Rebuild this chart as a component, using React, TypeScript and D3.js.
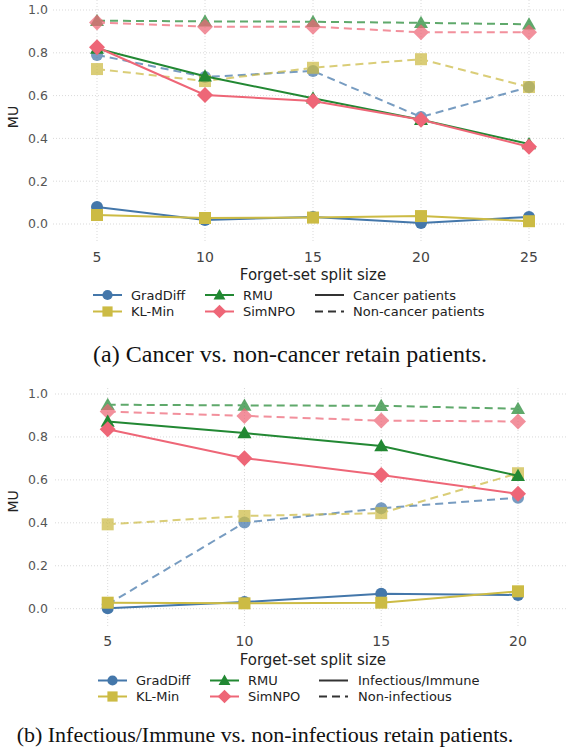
import React from "react";
import * as d3 from "d3";

const methods = ["GradDiff", "KL-Min", "RMU", "SimNPO"];
const colors = ["#4477AA", "#CCBB44", "#228833", "#EE6677"];
const shapes = ["circle", "square", "triangle", "diamond"];

const yTicks = [0, 0.2, 0.4, 0.6, 0.8, 1.0];

// Panel (a)
const splitsA = [5, 10, 15, 20, 25];
const cancerA = [
  [0.079, 0.019, 0.033, 0.005, 0.033],
  [0.042, 0.028, 0.03, 0.037, 0.013],
  [0.82, 0.69, 0.588, 0.487, 0.374],
  [0.826, 0.603, 0.575, 0.487, 0.361],
];
const nonCancerA = [
  [0.79, 0.687, 0.715, 0.5, 0.64],
  [0.724, 0.668, 0.73, 0.77, 0.64],
  [0.95, 0.947, 0.945, 0.94, 0.933],
  [0.942, 0.922, 0.922, 0.896, 0.896],
];

// Panel (b)
const splitsB = [5, 10, 15, 20];
const infectiousB = [
  [0.002, 0.031, 0.07, 0.064],
  [0.028, 0.025, 0.028, 0.081],
  [0.872, 0.818, 0.758, 0.619],
  [0.836, 0.701, 0.623, 0.535],
];
const nonInfectiousB = [
  [0.02, 0.401, 0.468, 0.517],
  [0.393, 0.432, 0.445, 0.631],
  [0.95, 0.947, 0.945, 0.931],
  [0.918, 0.898, 0.876, 0.872],
];

const SANS = "'DejaVu Sans', sans-serif";
const SERIF = "'Liberation Serif', 'Times New Roman', serif";

function Marker({ shape, x, y, color, opacity = 1, s = 1 }: any) {
  if (shape === "circle") return <circle cx={x} cy={y} r={6 * s} fill={color} opacity={opacity} />;
  if (shape === "square") {
    const h = 6 * s;
    return <rect x={x - h} y={y - h} width={2 * h} height={2 * h} fill={color} opacity={opacity} />;
  }
  if (shape === "triangle") {
    const h = 7 * s;
    return (
      <path
        d={`M${x},${y - h}L${x + h},${y + h * 0.75}L${x - h},${y + h * 0.75}Z`}
        fill={color}
        opacity={opacity}
      />
    );
  }
  const h = 8 * s;
  return <path d={`M${x},${y - h}L${x + h},${y}L${x},${y + h}L${x - h},${y}Z`} fill={color} opacity={opacity} />;
}

function Panel({ splits, solid, dashed, xRange, yRange, gridX, gridY, tickY, titleY, legend, caption }: any) {
  const x = d3.scaleLinear().domain([splits[0], splits[splits.length - 1]]).range(xRange);
  const y = d3.scaleLinear().domain([0, 1]).range(yRange);
  const line = d3
    .line<number>()
    .x((_, i) => x(splits[i]))
    .y((d) => y(d));
  return (
    <g>
      {yTicks.map((t) => (
        <g key={"gy" + t}>
          <line x1={gridX[0]} x2={gridX[1]} y1={y(t)} y2={y(t)} stroke="#cfcfcf" strokeWidth={0.8} strokeDasharray="1,2" />
          <text x={48} y={y(t)} dy="0.35em" textAnchor="end" fontFamily={SANS} fontSize={12.5} fill="#555">
            {t.toFixed(1)}
          </text>
        </g>
      ))}
      {splits.map((s: number) => (
        <g key={"gx" + s}>
          <line x1={x(s)} x2={x(s)} y1={gridY[0]} y2={gridY[1]} stroke="#cfcfcf" strokeWidth={0.8} strokeDasharray="1,2" />
          <text x={x(s)} y={tickY} dy="0.35em" textAnchor="middle" fontFamily={SANS} fontSize={14} fill="#444">
            {s}
          </text>
        </g>
      ))}
      <text x={(xRange[0] + xRange[1]) / 2} y={titleY} dy="0.35em" textAnchor="middle" fontFamily={SANS} fontSize={15} fill="#222">
        Forget-set split size
      </text>
      <text
        transform={`translate(13,${(yRange[0] + yRange[1]) / 2}) rotate(-90)`}
        dy="0.35em"
        textAnchor="middle"
        fontFamily={SANS}
        fontSize={14}
        fill="#222"
      >
        MU
      </text>
      {dashed.map((vals: number[], m: number) => (
        <g key={"d" + m} opacity={0.72}>
          <path d={line(vals) || ""} fill="none" stroke={colors[m]} strokeWidth={2} strokeDasharray="8,5" />
          {vals.map((v, i) => (
            <Marker key={i} shape={shapes[m]} x={x(splits[i])} y={y(v)} color={colors[m]} />
          ))}
        </g>
      ))}
      {solid.map((vals: number[], m: number) => (
        <g key={"s" + m}>
          <path d={line(vals) || ""} fill="none" stroke={colors[m]} strokeWidth={2} />
          {vals.map((v, i) => (
            <Marker key={i} shape={shapes[m]} x={x(splits[i])} y={y(v)} color={colors[m]} />
          ))}
        </g>
      ))}
      {/* legend */}
      {methods.map((name, m) => {
        const col = Math.floor(m / 2);
        const row = m % 2;
        const lx = legend.cols[col];
        const ly = legend.rows[row];
        return (
          <g key={"l" + m}>
            <line x1={lx} x2={lx + 29} y1={ly} y2={ly} stroke={colors[m]} strokeWidth={2} />
            <Marker shape={shapes[m]} x={lx + 14.5} y={ly} color={colors[m]} s={0.85} />
            <text x={lx + 38} y={ly} dy="0.35em" fontFamily={SANS} fontSize={13} fill="#222">
              {name}
            </text>
          </g>
        );
      })}
      {legend.styles.map((name: string, i: number) => {
        const lx = legend.cols[2];
        const ly = legend.rows[i];
        return (
          <g key={"ls" + i}>
            <line
              x1={lx}
              x2={lx + 29}
              y1={ly}
              y2={ly}
              stroke="#333"
              strokeWidth={2}
              strokeDasharray={i === 1 ? "8,5" : undefined}
            />
            <text x={lx + legend.styleGap} y={ly} dy="0.35em" fontFamily={SANS} fontSize={13} fill="#222">
              {name}
            </text>
          </g>
        );
      })}
      <text x={caption.x} y={caption.y} textAnchor="middle" fontFamily={SERIF} fontSize={caption.size} fill="#111">
        {caption.text}
      </text>
    </g>
  );
}

export default function App() {
  return (
    <svg
      width={566}
      height={755}
      style={{ position: "absolute", left: 0, top: 0, background: "#fff" }}
    >
      <Panel
        splits={splitsA}
        solid={cancerA}
        dashed={nonCancerA}
        xRange={[97, 529]}
        yRange={[224, 10]}
        gridX={[53, 566]}
        gridY={[0, 243]}
        tickY={257}
        titleY={275}
        legend={{ cols: [93, 205, 315], rows: [295, 311.5], styles: ["Cancer patients", "Non-cancer patients"], styleGap: 38 }}
        caption={{ x: 290, y: 362, size: 24, text: "(a) Cancer vs. non-cancer retain patients." }}
      />
      <Panel
        splits={splitsB}
        solid={infectiousB}
        dashed={nonInfectiousB}
        xRange={[107.7, 518]}
        yRange={[608.7, 394]}
        gridX={[55, 566]}
        gridY={[388, 628]}
        tickY={641.5}
        titleY={660}
        legend={{ cols: [98, 210, 319], rows: [680.5, 696.5], styles: ["Infectious/Immune", "Non-infectious"], styleGap: 39 }}
        caption={{ x: 265, y: 742, size: 22, text: "(b) Infectious/Immune vs. non-infectious retain patients." }}
      />
    </svg>
  );
}
